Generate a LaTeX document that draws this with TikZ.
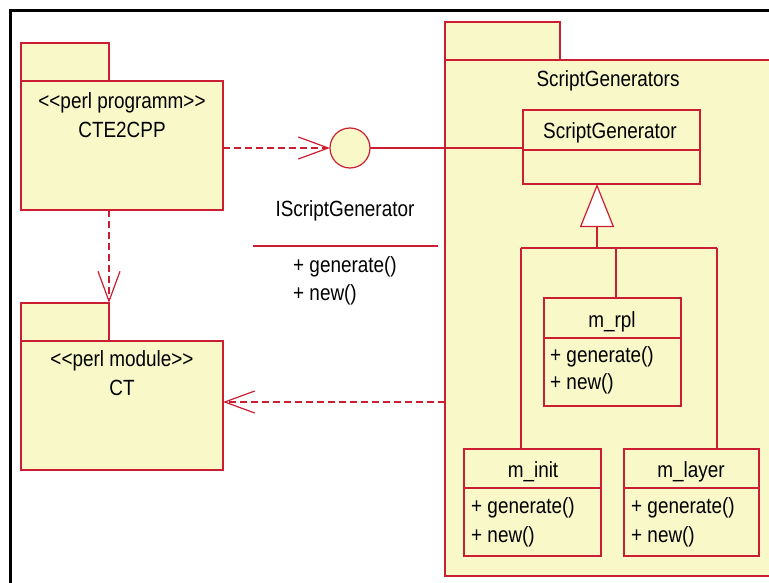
\documentclass[tikz,border=0pt]{standalone}
\usepackage{fontspec}
\setmainfont{Liberation Sans}[FakeStretch=0.86]
\usetikzlibrary{arrows.meta}
\definecolor{umlred}{RGB}{204,30,50}
\definecolor{umlfill}{RGB}{248,248,200}

\begin{document}
\begin{tikzpicture}[x=1pt,y=-1pt,
  box/.style={draw=umlred, fill=umlfill, line width=1.2pt, rectangle,
    inner sep=0pt, outer sep=0pt, anchor=north west},
  lbl/.style={font=\fontsize{22}{26}\selectfont, inner sep=0pt, anchor=base},
  lbll/.style={lbl, anchor=base west},
  line/.style={draw=umlred, line width=1.2pt},
  dep/.style={line, dash pattern=on 7pt off 4pt,
    -{Straight Barb[length=30pt,width=22pt,line width=1.2pt]}},
  gen/.style={line, -{Triangle[length=43pt,width=34pt,fill=white,line width=1.2pt]}}]
\useasboundingbox (0,0) rectangle (769,583);

% outer frame
\draw[black, line width=3pt] (10,11) rectangle (790,600);

% package CTE2CPP
\node[box, minimum width=88pt, minimum height=38pt] (ctetab) at (21,43) {};
\node[box, minimum width=202pt, minimum height=129pt] (cte) at (21,81) {};
\node[lbl] at (122,109) {<{}<perl programm>{}>};
\node[lbl] at (122,138) {CTE2CPP};

% package CT
\node[box, minimum width=88pt, minimum height=38pt] (cttab) at (21,303) {};
\node[box, minimum width=202pt, minimum height=129pt] (ct) at (21,341) {};
\node[lbl] at (122,366) {<{}<perl module>{}>};
\node[lbl] at (122,395) {CT};

% package ScriptGenerators
\node[box, minimum width=115pt, minimum height=38pt] (sgtab) at (445,22) {};
\node[box, minimum width=330pt, minimum height=516pt] (sgpkg) at (445,60) {};
\node[lbl] at (608,87) {ScriptGenerators};

% class ScriptGenerator
\node[box, minimum width=177pt, minimum height=40pt] (sgh) at (523,110) {};
\node[box, minimum width=177pt, minimum height=34pt] (sgb) at (523,150) {};
\node[lbl] at (610,139) {ScriptGenerator};

% class m_rpl
\node[box, minimum width=137pt, minimum height=40pt] (rplh) at (544,298) {};
\node[box, minimum width=137pt, minimum height=68pt] (rplb) at (544,338) {};
\node[lbl] at (612,327) {m\_rpl};
\node[lbll] at (550,362) {+ generate()};
\node[lbll] at (550,389) {+ new()};

% class m_init
\node[box, minimum width=137pt, minimum height=39pt] (inith) at (464,449) {};
\node[box, minimum width=137pt, minimum height=68pt] (initb) at (464,488) {};
\node[lbl] at (533,477) {m\_init};
\node[lbll] at (471,513) {+ generate()};
\node[lbll] at (471,542) {+ new()};

% class m_layer
\node[box, minimum width=135pt, minimum height=39pt] (layerh) at (624,449) {};
\node[box, minimum width=135pt, minimum height=68pt] (layerb) at (624,488) {};
\node[lbl] at (691,477) {m\_layer};
\node[lbll] at (631,513) {+ generate()};
\node[lbll] at (631,542) {+ new()};

% interface IScriptGenerator
\node[draw=umlred, fill=umlfill, line width=1.2pt, circle, minimum size=40pt,
  inner sep=0pt, outer sep=0pt] (iface) at (350,148) {};
\node[lbl] at (345,217) {IScriptGenerator};
\draw[line] (253,246) -- (438,246);
\node[lbll] at (293,272) {+ generate()};
\node[lbll] at (293,300) {+ new()};

% connectors
\draw[dep] (cte.east |- iface.west) -- (iface.west);
\draw[line] (iface.east) -- (sgh.west |- iface.east);
\draw[dep] (cte.south -| ctetab.east) -- (cttab.north east);
\coordinate (sgdep) at (445,402);
\draw[dep] (sgdep) -- (ct.east |- sgdep);

% generalisation tree
\coordinate (gen) at (597,248);
\coordinate (busL) at (521,248);
\coordinate (busM) at (616,248);
\coordinate (busR) at (717,248);
\draw[line] (busL) -- (busR);
\draw[line] (busL) -- (busL |- inith.north);
\draw[line] (busM) -- (busM |- rplh.north);
\draw[line] (busR) -- (busR |- layerh.north);
\draw[gen] (gen) -- (gen |- sgb.south);
\end{tikzpicture}
\end{document}
